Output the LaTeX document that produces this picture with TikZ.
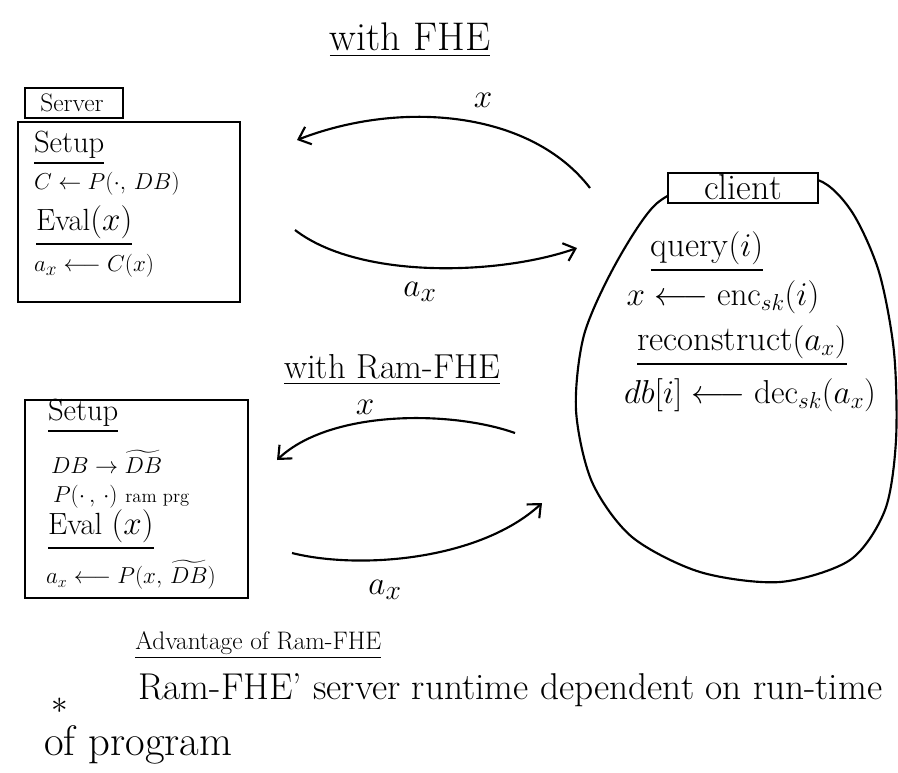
\documentclass[tikz,border=0pt]{standalone}
\usepackage{amsmath}
\usetikzlibrary{arrows.meta}
\tikzset{
  hand/.style={inner sep=0pt, font=\fontsize{19}{22}\selectfont},
  head/.style={inner sep=0pt, font=\fontsize{23}{26}\selectfont},
  large/.style={inner sep=1pt, font=\fontsize{26}{30}\selectfont},
  frame/.style={draw, line width=1.6pt},
  flow/.style={line width=1.6pt, -{Straight Barb[length=8pt,width=14pt]}},
}
\begin{document}
\begin{tikzpicture}[x=0.75pt,y=-0.75pt,line width=1.6pt]
	\useasboundingbox (0,0) rectangle (898,772);
	% with FHE
	\node[inner sep=1pt,font=\fontsize{30}{36}\selectfont] (fhe) at (410,40) {\underline{with FHE}};
	\draw[frame] (25,88) rectangle (123,118);
	\node[hand] (servertab) at (72,103) {Server};
	\draw[frame] (18,122) rectangle (240,302);
	\node[head,anchor=west] (setupA) at (33,148) {\underline{Setup}};
	\node[hand,anchor=west] (compile) at (33,184) {$C \leftarrow P(\cdot,\,DB)$};
	\node[head,anchor=west] (evalA) at (35,226) {\underline{Eval$(x)$}};
	\node[hand,anchor=west] (answerA) at (33,266) {$a_x \longleftarrow C(x)$};
	% client
	\draw plot[smooth cycle] coordinates {(818,180) (852,212) (879,272) (894,352) (896,440) (885,510) (850,560) (780,582) (700,572) (632,537) (592,482) (576,410) (584,335) (615,265) (655,205) (700,184) (760,180)};
	\draw[frame,fill=white] (668,173) rectangle (818,203);
	\node[inner sep=1pt,font=\fontsize{27}{30}\selectfont] (client) at (743,187) {client};
	\node[large] (query) at (707,252) {\underline{query$(i)$}};
	\node[large] (enc) at (723,297) {$x \longleftarrow \mathrm{enc}_{sk}(i)$};
	\node[large] (recon) at (742,346) {\underline{reconstruct$(a_x)$}};
	\node[large] (dec) at (750,395) {$db[i] \longleftarrow \mathrm{dec}_{sk}(a_x)$};
	% FHE messages
	\coordinate (cq) at (590,188);
	\coordinate (sq) at (297,140);
	\coordinate (sa) at (295,230);
	\coordinate (ca) at (577,248);
	\draw[flow] (cq) .. controls (530,110) and (400,100) .. (sq);
	\draw[flow] (sa) .. controls (360,280) and (500,275) .. (ca);
	\node[large] (xA) at (483,100) {$x$};
	\node[inner sep=1pt,font=\fontsize{30}{34}\selectfont] (axA) at (420,292) {$a_x$};
	% with Ram-FHE
	\node[large] (ramfhe) at (392,370) {\underline{with Ram-FHE}};
	\draw[frame] (25,400) rectangle (248,598);
	\node[head,anchor=west] (setupB) at (47,416) {\underline{Setup}};
	\node[hand,anchor=west] (pre) at (50,462) {$DB \rightarrow \widetilde{DB}$};
	\node[hand,anchor=west] (prog) at (52,497) {$P(\cdot\,,\,\cdot)$ {\fontsize{14}{16}\selectfont ram prg}};
	\node[head,anchor=west] (evalB) at (47,530) {\underline{Eval $(x)$}};
	\node[inner sep=0pt,font=\fontsize{18}{21}\selectfont,anchor=west] (answerB) at (45,575) {$a_x \longleftarrow P(x,\,\widetilde{DB})$};
	% Ram-FHE messages
	\coordinate (cqB) at (515,433);
	\coordinate (sqB) at (277,460);
	\coordinate (saB) at (292,553);
	\coordinate (caB) at (542,503);
	\draw[flow] (cqB) .. controls (450,410) and (330,410) .. (sqB);
	\draw[flow] (saB) .. controls (360,570) and (480,560) .. (caB);
	\node[large] (xB) at (365,407) {$x$};
	\node[inner sep=1pt,font=\fontsize{30}{34}\selectfont] (axB) at (385,590) {$a_x$};
	% advantage
	\node[inner sep=1pt,font=\fontsize{19}{22}\selectfont,anchor=west] (adv) at (133,645) {\underline{Advantage of Ram-FHE}};
	\node[inner sep=1pt,font=\fontsize{36}{40}\selectfont] (star) at (60,706) {$\ast$};
	\node[inner sep=1pt,font=\fontsize{28}{32}\selectfont,anchor=west] (point) at (136,690) {Ram-FHE' server runtime dependent on run-time};
	\node[inner sep=1pt,font=\fontsize{32}{36}\selectfont,anchor=west] (point2) at (42,745) {of program};
\end{tikzpicture}
\end{document}
